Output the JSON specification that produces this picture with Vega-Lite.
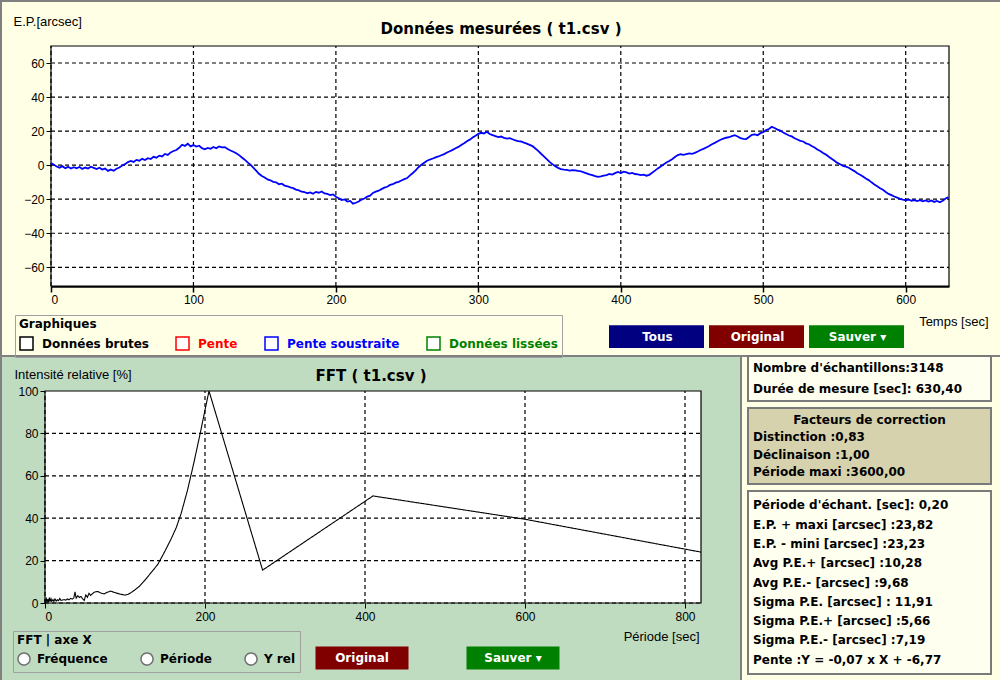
{
  "$schema": "https://vega.github.io/schema/vega-lite/v6.json",
  "padding": 0,
  "background": "#FFFFE6",
  "spacing": 0,
  "bounds": "flush",
  "config": {
    "font": "DejaVu Sans",
    "axis": {"labelFont": "Liberation Sans", "labelFontSize": 12, "labelColor": "#000", "tickColor": "#000", "grid": false, "titleFont": "Liberation Sans", "titleFontSize": 13, "titleFontWeight": "normal", "titleColor": "#000", "zindex": 1},
    "legend": {"labelFont": "DejaVu Sans", "labelFontSize": 12, "labelFontWeight": "bold", "titleFont": "DejaVu Sans", "titleFontSize": 12, "titleFontWeight": "bold", "titleColor": "#000"},
    "title": {"font": "DejaVu Sans", "fontSize": 15, "fontWeight": "bold", "color": "#000", "anchor": "middle", "frame": "group"}
  },
  "datasets": {
    "mesures": [
      {"t":0,"v":1.2},{"t":2,"v":0.2},{"t":4,"v":-0.8},{"t":6,"v":-1.5},{"t":8,"v":-0.6},{"t":10,"v":-1.8},{"t":12,"v":-1.0},{"t":14,"v":-2.0},{"t":16,"v":-1.2},{"t":18,"v":-1.9},
      {"t":20,"v":-1.1},{"t":22,"v":-2.2},{"t":24,"v":-1.4},{"t":26,"v":-2.0},{"t":28,"v":-0.9},{"t":30,"v":-1.6},{"t":32,"v":-2.3},{"t":34,"v":-1.5},{"t":36,"v":-2.6},{"t":38,"v":-2.0},
      {"t":40,"v":-3.4},{"t":42,"v":-2.6},{"t":44,"v":-3.3},{"t":46,"v":-2.1},{"t":48,"v":-1.4},{"t":50,"v":-0.2},{"t":52,"v":0.6},{"t":54,"v":1.8},{"t":56,"v":2.5},{"t":58,"v":1.9},
      {"t":60,"v":3.1},{"t":62,"v":2.6},{"t":64,"v":3.7},{"t":66,"v":3.0},{"t":68,"v":4.1},{"t":70,"v":3.6},{"t":72,"v":4.9},{"t":74,"v":4.4},{"t":76,"v":5.6},{"t":78,"v":5.1},
      {"t":80,"v":6.6},{"t":82,"v":6.0},{"t":84,"v":7.5},{"t":86,"v":8.3},{"t":88,"v":8.9},{"t":90,"v":10.2},{"t":92,"v":12.0},{"t":94,"v":11.3},{"t":96,"v":12.6},{"t":98,"v":11.0},
      {"t":100,"v":11.8},{"t":102,"v":10.9},{"t":104,"v":11.4},{"t":106,"v":10.0},{"t":108,"v":9.3},{"t":110,"v":10.1},{"t":112,"v":9.6},{"t":114,"v":10.7},{"t":116,"v":9.9},{"t":118,"v":11.0},
      {"t":120,"v":10.4},{"t":122,"v":10.6},{"t":124,"v":9.5},{"t":126,"v":8.6},{"t":128,"v":7.9},{"t":130,"v":7.0},{"t":132,"v":5.9},{"t":134,"v":4.5},{"t":136,"v":3.2},{"t":138,"v":1.6},
      {"t":140,"v":0.3},{"t":142,"v":-1.5},{"t":144,"v":-3.2},{"t":146,"v":-5.1},{"t":148,"v":-6.4},{"t":150,"v":-7.2},{"t":152,"v":-8.4},{"t":154,"v":-8.9},{"t":156,"v":-9.8},{"t":158,"v":-10.1},
      {"t":160,"v":-11.2},{"t":162,"v":-10.9},{"t":164,"v":-12.0},{"t":166,"v":-12.4},{"t":168,"v":-13.1},{"t":170,"v":-13.5},{"t":172,"v":-14.4},{"t":174,"v":-14.8},{"t":176,"v":-15.6},{"t":178,"v":-15.9},
      {"t":180,"v":-16.5},{"t":182,"v":-16.0},{"t":184,"v":-16.8},{"t":186,"v":-15.7},{"t":188,"v":-16.2},{"t":190,"v":-15.5},{"t":192,"v":-16.6},{"t":194,"v":-16.9},{"t":196,"v":-17.6},{"t":198,"v":-17.2},
      {"t":200,"v":-18.6},{"t":202,"v":-19.4},{"t":204,"v":-20.5},{"t":206,"v":-20.1},{"t":208,"v":-21.4},{"t":210,"v":-21.0},{"t":212,"v":-22.6},{"t":214,"v":-22.1},{"t":216,"v":-21.4},{"t":218,"v":-20.2},
      {"t":220,"v":-19.6},{"t":222,"v":-18.5},{"t":224,"v":-17.9},{"t":226,"v":-16.3},{"t":228,"v":-15.6},{"t":230,"v":-15.0},{"t":232,"v":-14.1},{"t":234,"v":-13.2},{"t":236,"v":-12.7},{"t":238,"v":-11.6},
      {"t":240,"v":-11.2},{"t":242,"v":-10.3},{"t":244,"v":-9.8},{"t":246,"v":-9.0},{"t":248,"v":-8.2},{"t":250,"v":-7.6},{"t":252,"v":-6.0},{"t":254,"v":-4.6},{"t":256,"v":-3.1},{"t":258,"v":-1.2},
      {"t":260,"v":0.2},{"t":262,"v":1.4},{"t":264,"v":2.6},{"t":266,"v":3.3},{"t":268,"v":3.9},{"t":270,"v":4.6},{"t":272,"v":5.1},{"t":274,"v":5.8},{"t":276,"v":6.5},{"t":278,"v":7.4},
      {"t":280,"v":8.2},{"t":282,"v":9.0},{"t":284,"v":9.9},{"t":286,"v":10.7},{"t":288,"v":11.8},{"t":290,"v":12.9},{"t":292,"v":14.1},{"t":294,"v":15.0},{"t":296,"v":16.2},{"t":298,"v":17.3},
      {"t":300,"v":18.4},{"t":302,"v":19.0},{"t":304,"v":18.6},{"t":306,"v":19.6},{"t":308,"v":18.3},{"t":310,"v":17.6},{"t":312,"v":17.1},{"t":314,"v":16.5},{"t":316,"v":16.8},{"t":318,"v":16.0},
      {"t":320,"v":15.6},{"t":322,"v":15.9},{"t":324,"v":15.2},{"t":326,"v":14.6},{"t":328,"v":14.1},{"t":330,"v":13.9},{"t":332,"v":13.2},{"t":334,"v":12.6},{"t":336,"v":11.9},{"t":338,"v":11.2},
      {"t":340,"v":9.8},{"t":342,"v":8.4},{"t":344,"v":6.7},{"t":346,"v":5.2},{"t":348,"v":3.6},{"t":350,"v":1.9},{"t":352,"v":0.6},{"t":354,"v":-0.6},{"t":356,"v":-1.6},{"t":358,"v":-2.3},
      {"t":360,"v":-2.6},{"t":362,"v":-2.8},{"t":364,"v":-3.2},{"t":366,"v":-2.9},{"t":368,"v":-3.1},{"t":370,"v":-3.4},{"t":372,"v":-3.6},{"t":374,"v":-4.2},{"t":376,"v":-4.8},{"t":378,"v":-5.4},
      {"t":380,"v":-5.9},{"t":382,"v":-6.5},{"t":384,"v":-6.9},{"t":386,"v":-6.6},{"t":388,"v":-6.2},{"t":390,"v":-5.9},{"t":392,"v":-5.2},{"t":394,"v":-5.5},{"t":396,"v":-4.7},{"t":398,"v":-4.0},
      {"t":400,"v":-4.6},{"t":402,"v":-3.8},{"t":404,"v":-4.3},{"t":406,"v":-5.0},{"t":408,"v":-4.6},{"t":410,"v":-5.2},{"t":412,"v":-5.4},{"t":414,"v":-5.9},{"t":416,"v":-5.6},{"t":418,"v":-6.2},
      {"t":420,"v":-5.7},{"t":422,"v":-4.5},{"t":424,"v":-3.2},{"t":426,"v":-1.9},{"t":428,"v":-0.8},{"t":430,"v":0.4},{"t":432,"v":1.6},{"t":434,"v":2.4},{"t":436,"v":3.5},{"t":438,"v":4.8},
      {"t":440,"v":5.9},{"t":442,"v":6.4},{"t":444,"v":6.1},{"t":446,"v":6.5},{"t":448,"v":6.9},{"t":450,"v":6.6},{"t":452,"v":7.2},{"t":454,"v":8.0},{"t":456,"v":8.9},{"t":458,"v":9.6},
      {"t":460,"v":10.4},{"t":462,"v":11.2},{"t":464,"v":12.3},{"t":466,"v":13.1},{"t":468,"v":14.0},{"t":470,"v":14.9},{"t":472,"v":15.6},{"t":474,"v":16.1},{"t":476,"v":16.4},{"t":478,"v":17.0},
      {"t":480,"v":17.6},{"t":482,"v":16.8},{"t":484,"v":15.9},{"t":486,"v":15.4},{"t":488,"v":15.3},{"t":490,"v":16.5},{"t":492,"v":17.8},{"t":494,"v":18.1},{"t":496,"v":17.6},{"t":498,"v":18.8},
      {"t":500,"v":19.4},{"t":502,"v":20.6},{"t":504,"v":21.2},{"t":506,"v":22.5},{"t":508,"v":21.8},{"t":510,"v":20.9},{"t":512,"v":20.3},{"t":514,"v":19.2},{"t":516,"v":18.3},{"t":518,"v":17.4},
      {"t":520,"v":16.9},{"t":522,"v":15.8},{"t":524,"v":15.1},{"t":526,"v":14.3},{"t":528,"v":13.9},{"t":530,"v":12.8},{"t":532,"v":12.3},{"t":534,"v":11.2},{"t":536,"v":10.4},{"t":538,"v":9.2},
      {"t":540,"v":8.3},{"t":542,"v":7.1},{"t":544,"v":6.2},{"t":546,"v":4.9},{"t":548,"v":3.8},{"t":550,"v":2.6},{"t":552,"v":1.3},{"t":554,"v":0.5},{"t":556,"v":-0.4},{"t":558,"v":-0.9},
      {"t":560,"v":-1.5},{"t":562,"v":-2.6},{"t":564,"v":-3.5},{"t":566,"v":-4.8},{"t":568,"v":-5.6},{"t":570,"v":-6.7},{"t":572,"v":-7.9},{"t":574,"v":-8.8},{"t":576,"v":-10.1},{"t":578,"v":-11.3},
      {"t":580,"v":-12.4},{"t":582,"v":-13.6},{"t":584,"v":-14.5},{"t":586,"v":-15.8},{"t":588,"v":-16.9},{"t":590,"v":-17.6},{"t":592,"v":-18.4},{"t":594,"v":-19.1},{"t":596,"v":-19.8},{"t":598,"v":-20.3},
      {"t":600,"v":-20.6},{"t":602,"v":-20.2},{"t":604,"v":-20.9},{"t":606,"v":-20.5},{"t":608,"v":-21.1},{"t":610,"v":-20.6},{"t":612,"v":-21.3},{"t":614,"v":-20.7},{"t":616,"v":-21.4},{"t":618,"v":-20.8},
      {"t":620,"v":-21.6},{"t":622,"v":-21.0},{"t":624,"v":-21.8},{"t":626,"v":-20.9},{"t":628,"v":-19.6},{"t":630,"v":-18.8}
    ],
    "fft": [
      {"p":0.5,"i":0.3},{"p":1.5,"i":2.5},{"p":2.5,"i":0.2},{"p":3.5,"i":1.8},{"p":4.5,"i":0.4},{"p":5.5,"i":2.6},{"p":6.5,"i":0.6},{"p":7.5,"i":2.0},{"p":8.5,"i":0.8},{"p":10,"i":1.6},
      {"p":11,"i":0.7},{"p":12.5,"i":1.9},{"p":14,"i":0.9},{"p":15.5,"i":1.5},{"p":17,"i":1.1},{"p":18.5,"i":2.1},{"p":20,"i":1.2},{"p":22,"i":1.4},{"p":24,"i":1.6},{"p":26,"i":1.3},
      {"p":28,"i":1.9},{"p":30,"i":1.5},{"p":32,"i":2.2},{"p":34,"i":1.8},{"p":36,"i":2.4},{"p":37.5,"i":5.2},{"p":39,"i":2.3},{"p":41,"i":3.4},{"p":43,"i":2.6},{"p":45,"i":3.1},
      {"p":47,"i":2.0},{"p":49,"i":1.2},{"p":51,"i":3.8},{"p":53,"i":2.7},{"p":55,"i":4.6},{"p":57,"i":3.6},{"p":59,"i":4.3},{"p":62,"i":5.2},{"p":66,"i":5.4},{"p":70,"i":4.7},
      {"p":74,"i":4.3},{"p":78,"i":5.1},{"p":82,"i":5.6},{"p":86,"i":5.1},{"p":90,"i":4.6},{"p":95,"i":4.1},{"p":100,"i":3.7},{"p":104,"i":4.1},{"p":108,"i":5.0},{"p":112,"i":6.1},
      {"p":118,"i":7.9},{"p":125,"i":10.8},{"p":133,"i":14.5},{"p":141,"i":18.2},{"p":150,"i":24.5},{"p":158,"i":30.5},{"p":164,"i":35.5},{"p":170,"i":42},{"p":178,"i":53},{"p":186,"i":66},
      {"p":194,"i":80},{"p":200,"i":91},{"p":205,"i":100},{"p":272,"i":15.5},{"p":410,"i":50.5},{"p":600,"i":39.5},{"p":820,"i":24}
    ],
    "infos": [
      {"boite":"A","ordre":1,"texte":"Nombre d'échantillons:3148"},
      {"boite":"A","ordre":2,"texte":"Durée de mesure [sec]: 630,40"},
      {"boite":"B","ordre":1,"texte":"Facteurs de correction"},
      {"boite":"B","ordre":2,"texte":"Distinction :0,83"},
      {"boite":"B","ordre":3,"texte":"Déclinaison :1,00"},
      {"boite":"B","ordre":4,"texte":"Période maxi :3600,00"},
      {"boite":"C","ordre":1,"texte":"Période d'échant. [sec]: 0,20"},
      {"boite":"C","ordre":2,"texte":"E.P. + maxi [arcsec] :23,82"},
      {"boite":"C","ordre":3,"texte":"E.P. - mini [arcsec] :23,23"},
      {"boite":"C","ordre":4,"texte":"Avg P.E.+ [arcsec] :10,28"},
      {"boite":"C","ordre":5,"texte":"Avg P.E.- [arcsec] :9,68"},
      {"boite":"C","ordre":6,"texte":"Sigma P.E. [arcsec] : 11,91"},
      {"boite":"C","ordre":7,"texte":"Sigma P.E.+ [arcsec] :5,66"},
      {"boite":"C","ordre":8,"texte":"Sigma P.E.- [arcsec] :7,19"},
      {"boite":"C","ordre":9,"texte":"Pente :Y = -0,07 x X + -6,77"}
    ]
  },
  "vconcat": [
    {
      "width": 1000,
      "height": 355,
      "view": {"fill": "#FFFFE6", "stroke": "#808080", "strokeWidth": 2},
      "title": {"text": "Données mesurées ( t1.csv )", "offset": -36},
      "layer": [
        {
          "data": {"values": [{}]},
          "mark": {"type": "rect", "fill": "#ffffff", "stroke": "#000", "strokeWidth": 1.2},
          "encoding": {
            "x": {"datum": 0, "type": "quantitative", "scale": {"domain": [0, 630.4], "range": [50, 948], "nice": false, "zero": false}},
            "x2": {"datum": 630.4},
            "y": {"datum": -71, "type": "quantitative", "scale": {"domain": [-71, 70], "range": [285, 45], "nice": false, "zero": false}},
            "y2": {"datum": 70}
          }
        },
        {
          "data": {"values": [{"t":0},{"t":100},{"t":200},{"t":300},{"t":400},{"t":500},{"t":600}]},
          "mark": {"type": "rule", "color": "#000", "strokeWidth": 1.2, "strokeDash": [4, 3]},
          "encoding": {
            "x": {"field": "t", "type": "quantitative"},
            "y": {"datum": -71, "type": "quantitative"},
            "y2": {"datum": 70}
          }
        },
        {
          "data": {"values": [{"v":-60},{"v":-40},{"v":-20},{"v":0},{"v":20},{"v":40},{"v":60}]},
          "mark": {"type": "rule", "color": "#000", "strokeWidth": 1.2, "strokeDash": [4, 3]},
          "encoding": {
            "y": {"field": "v", "type": "quantitative"},
            "x": {"datum": 0, "type": "quantitative"},
            "x2": {"datum": 630.4}
          }
        },
        {
          "data": {"values": [{}]},
          "mark": {"type": "rect"},
          "encoding": {
            "x": {"datum": 0, "type": "quantitative"},
            "x2": {"datum": 0},
            "y": {"datum": 0, "type": "quantitative"},
            "y2": {"datum": 0},
            "fill": {
              "datum": "Tous",
              "scale": {"domain": ["Tous", "Original", "Sauver  ▾"], "range": ["#000080", "#800000", "#008000"]},
              "legend": {
                "orient": "none", "legendX": 607, "legendY": 287, "direction": "horizontal", "title": null,
                "symbolType": "M-1,-0.24H1V0.24H-1Z", "symbolSize": 9025, "columnPadding": 4,
                "labelOffset": -47.5, "labelAlign": "center", "labelColor": "#ffffff"
              }
            }
          }
        },
        {
          "data": {"name": "mesures"},
          "mark": {"type": "line", "strokeWidth": 1.8},
          "encoding": {
            "x": {
              "field": "t", "type": "quantitative",
              "scale": {"domain": [0, 630.4], "range": [50, 948], "nice": false, "zero": false},
              "axis": {
                "orient": "bottom", "offset": -70, "values": [0, 100, 200, 300, 400, 500, 600],
                "domain": true, "domainColor": "#000", "domainWidth": 2.5, "tickSize": 6, "tickWidth": 1.5,
                "labelPadding": 2,
                "title": "Temps [sec]", "titleX": 987, "titleY": 35, "titleAlign": "right", "titleBaseline": "middle"
              }
            },
            "y": {
              "field": "v", "type": "quantitative",
              "scale": {"domain": [-71, 70], "range": [285, 45], "nice": false, "zero": false},
              "axis": {
                "orient": "left", "offset": -50, "values": [-60, -40, -20, 0, 20, 40, 60],
                "domain": false, "tickSize": 5, "labelPadding": 2,
                "title": "E.P.[arcsec]", "titleAngle": 0, "titleAlign": "left", "titleBaseline": "middle", "titleX": -38, "titleY": 20
              }
            },
            "color": {
              "datum": "Pente soustraite",
              "scale": {"domain": ["Données brutes", "Pente", "Pente soustraite", "Données lissées"], "range": ["#000000", "#ff0000", "#0000ff", "#008000"]},
              "legend": {
                "orient": "none", "legendX": 14, "legendY": 314, "direction": "horizontal", "title": "Graphiques",
                "symbolType": "square", "symbolSize": 169, "columnPadding": 24, "labelOffset": 8,
                "symbolFillColor": "#ffffff", "symbolStrokeWidth": 1.5,
                "strokeColor": "#a0a0a0", "padding": 4,
                "encode": {
                  "labels": {"update": {"fill": {"scale": "color", "field": "value"}}}
                }
              }
            }
          }
        }
      ]
    },
    {
      "hconcat": [
        {
          "width": 740,
          "height": 325,
          "view": {"fill": "#C0DCC0", "stroke": "#808080", "strokeWidth": 2},
          "title": {"text": "FFT ( t1.csv )", "offset": -28},
          "layer": [
            {
              "data": {"values": [{}]},
              "mark": {"type": "rect", "fill": "#ffffff", "stroke": "#000", "strokeWidth": 1.2},
              "encoding": {
                "x": {"datum": 0, "type": "quantitative", "scale": {"domain": [0, 820], "range": [44, 700], "nice": false, "zero": false}},
                "x2": {"datum": 820},
                "y": {"datum": 0, "type": "quantitative", "scale": {"domain": [0, 100], "range": [247, 35], "nice": false, "zero": false}},
                "y2": {"datum": 100}
              }
            },
            {
              "data": {"values": [{"p":0},{"p":200},{"p":400},{"p":600},{"p":800}]},
              "mark": {"type": "rule", "color": "#000", "strokeWidth": 1.2, "strokeDash": [4, 3]},
              "encoding": {
                "x": {"field": "p", "type": "quantitative"},
                "y": {"datum": 0, "type": "quantitative"},
                "y2": {"datum": 100}
              }
            },
            {
              "data": {"values": [{"i":0},{"i":20},{"i":40},{"i":60},{"i":80}]},
              "mark": {"type": "rule", "color": "#000", "strokeWidth": 1.2, "strokeDash": [4, 3]},
              "encoding": {
                "y": {"field": "i", "type": "quantitative"},
                "x": {"datum": 0, "type": "quantitative"},
                "x2": {"datum": 820}
              }
            },
            {
              "data": {"values": [{}]},
              "mark": {"type": "rect"},
              "encoding": {
                "x": {"datum": 0, "type": "quantitative"},
                "x2": {"datum": 0},
                "y": {"datum": 0, "type": "quantitative"},
                "y2": {"datum": 0},
                "stroke": {
                  "datum": "Original",
                  "scale": {"domain": ["Original", "Sauver  ▾"], "range": ["#800000", "#008000"]},
                  "legend": {
                    "orient": "none", "legendX": 303, "legendY": 599, "direction": "horizontal", "title": null,
                    "symbolType": "M-1,0H1", "symbolSize": 8649, "symbolStrokeWidth": 23, "columnPadding": -83,
                    "labelOffset": -58, "labelAlign": "center", "labelColor": "#ffffff"
                  }
                }
              }
            },
            {
              "data": {"name": "fft"},
              "mark": {"type": "line", "strokeWidth": 1.1, "color": "#000"},
              "encoding": {
                "x": {
                  "field": "p", "type": "quantitative",
                  "scale": {"domain": [0, 820], "range": [44, 700], "nice": false, "zero": false},
                  "axis": {
                    "orient": "bottom", "offset": -78, "values": [0, 200, 400, 600, 800],
                    "domain": false, "tickSize": 5, "labelPadding": 3,
                    "title": "Période [sec]", "titleX": 698, "titleY": 33, "titleAlign": "right", "titleBaseline": "middle"
                  }
                },
                "y": {
                  "field": "i", "type": "quantitative",
                  "scale": {"domain": [0, 100], "range": [247, 35], "nice": false, "zero": false},
                  "axis": {
                    "orient": "left", "offset": -44, "values": [0, 20, 40, 60, 80, 100],
                    "domain": false, "tickSize": 5, "labelPadding": 2,
                    "title": "Intensité relative [%]", "titleAngle": 0, "titleAlign": "left", "titleBaseline": "middle", "titleX": -31, "titleY": 18
                  }
                },
                "strokeDash": {
                  "datum": "Période",
                  "scale": {"domain": ["Fréquence", "Période", "Y rel"], "range": [[1, 0], [1, 0], [1, 0]]},
                  "legend": {
                    "orient": "none", "legendX": 12, "legendY": 630, "direction": "horizontal", "title": "FFT | axe X",
                    "symbolType": "circle", "symbolSize": 144, "columnPadding": 30, "labelOffset": 6,
                    "symbolFillColor": "#ffffff", "symbolStrokeColor": "#6f6f6f", "symbolStrokeWidth": 1.5,
                    "strokeColor": "#a0a0a0", "padding": 4,
                    "encode": {
                      "labels": {"update": {"fill": {"value": "#000000"}}}
                    }
                  }
                }
              }
            }
          ]
        },
        {
          "vconcat": [
            {
              "width": 243,
              "height": 45,
              "view": {"fill": "#FFFFF0", "stroke": "#7a7a7a", "strokeWidth": 2},
              "data": {"name": "infos"},
              "transform": [{"filter": "datum.boite === 'A'"}],
              "mark": {"type": "text", "align": "left", "dx": 5, "font": "DejaVu Sans", "fontSize": 12, "fontWeight": "bold", "color": "#000"},
              "encoding": {
                "x": {"datum": 0, "type": "quantitative", "scale": {"domain": [0, 1]}, "axis": null},
                "y": {"field": "ordre", "type": "ordinal", "axis": null, "scale": {"type": "point", "padding": 0.6}},
                "text": {"field": "texte"}
              }
            },
            {
              "width": 243,
              "height": 76,
              "view": {"fill": "#D6D2AE", "stroke": "#7a7a7a", "strokeWidth": 2},
              "data": {"name": "infos"},
              "transform": [{"filter": "datum.boite === 'B'"}],
              "encoding": {
                "y": {"field": "ordre", "type": "ordinal", "axis": null, "scale": {"type": "point", "padding": 0.7}},
                "text": {"field": "texte"}
              },
              "layer": [
                {
                  "transform": [{"filter": "datum.ordre === 1"}],
                  "mark": {"type": "text", "align": "center", "font": "DejaVu Sans", "fontSize": 12, "fontWeight": "bold", "color": "#000"},
                  "encoding": {"x": {"datum": 0.5, "type": "quantitative", "scale": {"domain": [0, 1]}, "axis": null}}
                },
                {
                  "transform": [{"filter": "datum.ordre > 1"}],
                  "mark": {"type": "text", "align": "left", "dx": 5, "font": "DejaVu Sans", "fontSize": 12, "fontWeight": "bold", "color": "#000"},
                  "encoding": {"x": {"datum": 0, "type": "quantitative", "scale": {"domain": [0, 1]}, "axis": null}}
                }
              ]
            },
            {
              "width": 243,
              "height": 183,
              "view": {"fill": "#FFFFF0", "stroke": "#7a7a7a", "strokeWidth": 2},
              "data": {"name": "infos"},
              "transform": [{"filter": "datum.boite === 'C'"}],
              "mark": {"type": "text", "align": "left", "dx": 5, "font": "DejaVu Sans", "fontSize": 12, "fontWeight": "bold", "color": "#000"},
              "encoding": {
                "x": {"datum": 0, "type": "quantitative", "scale": {"domain": [0, 1]}, "axis": null},
                "y": {"field": "ordre", "type": "ordinal", "axis": null, "scale": {"type": "point", "padding": 0.75}},
                "text": {"field": "texte"}
              }
            }
          ],
          "spacing": 7,
          "bounds": "flush"
        }
      ],
      "spacing": 7,
      "bounds": "flush"
    }
  ]
}
